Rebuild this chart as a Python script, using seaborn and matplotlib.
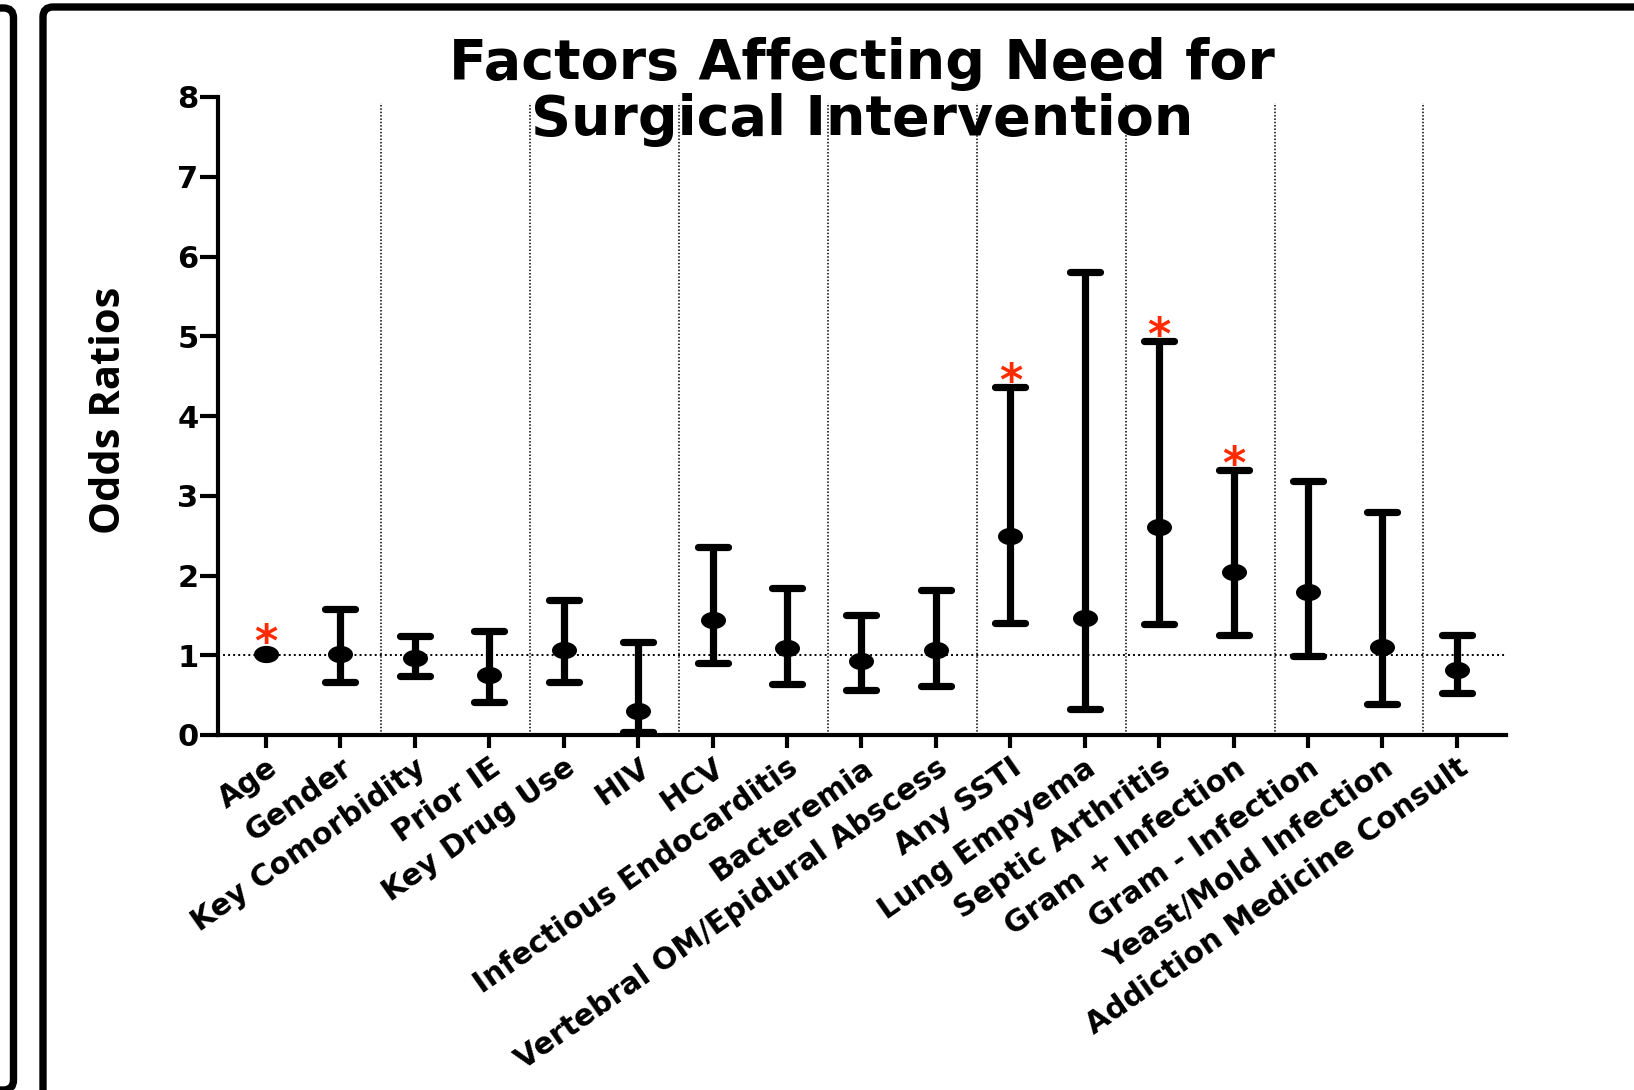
import numpy as np
import pandas as pd
import matplotlib
matplotlib.use("Agg")
import matplotlib.pyplot as plt
from matplotlib.path import Path
from matplotlib.markers import MarkerStyle
from matplotlib.patches import FancyBboxPatch
import seaborn as sns

# Odds ratios with 95% confidence limits for each factor
factors = ["Age", "Gender", "Key Comorbidity", "Prior IE", "Key Drug Use", "HIV",
           "HCV", "Infectious Endocarditis", "Bacteremia",
           "Vertebral OM/Epidural Abscess", "Any SSTI", "Lung Empyema",
           "Septic Arthritis", "Gram + Infection", "Gram - Infection",
           "Yeast/Mold Infection", "Addiction Medicine Consult"]
odds_ratio = [1.02, 1.02, 0.96, 0.75, 1.06, 0.30, 1.44, 1.09, 0.93, 1.06,
              2.49, 1.47, 2.61, 2.04, 1.79, 1.10, 0.82]
ci_low = [np.nan, 0.66, 0.74, 0.42, 0.66, 0.04, 0.90, 0.64, 0.56, 0.62,
          1.41, 0.33, 1.39, 1.26, 0.99, 0.39, 0.53]
ci_high = [np.nan, 1.58, 1.24, 1.30, 1.69, 1.17, 2.36, 1.84, 1.50, 1.82,
           4.36, 5.80, 4.94, 3.32, 3.18, 2.80, 1.25]
significant = ["Age", "Any SSTI", "Septic Arthritis", "Gram + Infection"]

df = pd.DataFrame({"factor": factors, "or": odds_ratio,
                   "lo": ci_low, "hi": ci_high})

sns.set_style("white")
plt.rcParams["font.family"] = ["DejaVu Sans"]
plt.rcParams["font.weight"] = "bold"
plt.rcParams["text.color"] = "black"
plt.rcParams["xtick.color"] = "black"
plt.rcParams["ytick.color"] = "black"

W, H = 1634, 1090
fig = plt.figure(figsize=(W / 100, H / 100), dpi=100)
ax = fig.add_axes([218 / W, 1 - 735 / H, (1506 - 218) / W, (735 - 97) / H])

# wide oval point marker
t = np.linspace(0, 2 * np.pi, 80)
oval = Path(np.column_stack([1.45 * np.cos(t), np.sin(t)]), closed=True)

pos = np.arange(len(factors))
ax.vlines(pos[1:-1:2] + 0.55, 0, 7.92, colors="black", linewidth=1.1,
          linestyles=[(0, (1, 1.2))], zorder=1)
ax.axhline(1, color="black", linewidth=1.4, linestyle=(0, (1, 1.6)), zorder=1)

has_ci = df["lo"].notna()
sub = df[has_ci]
eb = ax.errorbar(pos[has_ci.values], sub["or"],
                 yerr=[sub["or"] - sub["lo"], sub["hi"] - sub["or"]],
                 fmt="none", ecolor="black", elinewidth=5.2, capsize=10.8,
                 capthick=5.2, zorder=3, clip_on=False)
for cap in eb[1]:
    cap.set_marker(MarkerStyle("_", capstyle="round"))
for coll in eb[2]:
    coll.set_capstyle("butt")

sns.pointplot(data=df, x="factor", y="or", order=factors, errorbar=None,
              color="black", linestyle="none", marker=oval, markersize=18,
              markeredgewidth=0, ax=ax, zorder=4)
for ln in ax.lines:
    ln.set_clip_on(False)

# significance asterisks
for name in significant:
    i = factors.index(name)
    row = df.iloc[i]
    if np.isnan(row["hi"]):
        base, off = row["or"], -1.5
    else:
        base, off = row["hi"], -5.5
    ax.annotate("*", xy=(i, base), xytext=(0, off), textcoords="offset points",
                ha="center", va="baseline", color="#ff2a00", fontsize=32,
                fontweight="bold", annotation_clip=False)

ax.set_xlim(-0.645, 16.66)
ax.set_ylim(0, 8)
ax.set_yticks(range(0, 9))
ax.set_xticks(pos)
ax.set_xticklabels(factors, rotation=35, ha="right", rotation_mode="anchor",
                   fontsize=21.5, fontweight="bold")
ax.tick_params(axis="y", labelsize=22, length=13, width=3, pad=1,
               direction="out", left=True)
ax.tick_params(axis="x", length=9, width=3, pad=4, direction="out",
               bottom=True)
for lab in ax.get_yticklabels():
    lab.set_fontweight("bold")
for s in ["top", "right"]:
    ax.spines[s].set_visible(False)
for s in ["left", "bottom"]:
    ax.spines[s].set_linewidth(3)
    ax.spines[s].set_color("black")
ax.set_xlabel("")
ax.set_ylabel("")

fig.text(862 / W, 1 - 92 / H, "Factors Affecting Need for\nSurgical Intervention",
         ha="center", va="center", fontsize=40, fontweight="bold",
         linespacing=1.05)
fig.text(109 / W, 1 - 410 / H, "Odds Ratios", rotation=90, ha="center",
         va="center", fontsize=30, fontweight="bold",
         family=["Open Sans"])

# slide frames
fig.patches.append(FancyBboxPatch((43, -10), 1700, H + 10 - 7,
                                  boxstyle="round,pad=0,rounding_size=10",
                                  fill=False, edgecolor="black", linewidth=5.3,
                                  transform=None, figure=fig))
fig.patches.append(FancyBboxPatch((-100, 0), 113.5, H - 8,
                                  boxstyle="round,pad=0,rounding_size=10",
                                  fill=False, edgecolor="black", linewidth=5.3,
                                  transform=None, figure=fig))

fig.savefig("out.png", dpi=100, facecolor="white")
